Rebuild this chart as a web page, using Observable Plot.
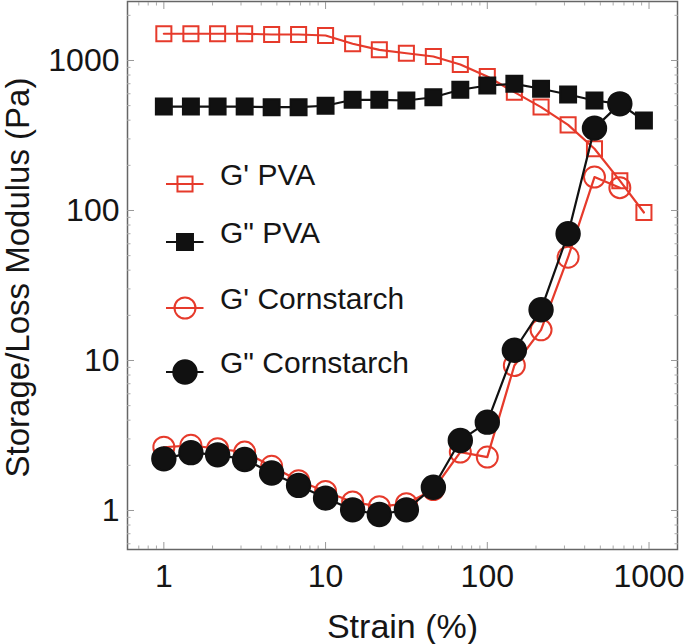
<!DOCTYPE html>
<html><head><meta charset="utf-8">
<script src="https://cdn.jsdelivr.net/npm/d3@7"></script>
<script src="https://cdn.jsdelivr.net/npm/@observablehq/plot@0.6"></script>
<style>
body{margin:0;background:#fff;}
#wrap{position:relative;width:685px;height:644px;font-family:"Liberation Sans",Arial,sans-serif;}
#legend{position:absolute;left:0;top:0;pointer-events:none;}
</style></head><body><div id="wrap"></div>
<script>
// strain points (%)
const strain = [1, 1.47, 2.15, 3.16, 4.64, 6.81, 10, 14.7, 21.5, 31.6, 46.4, 68.1, 100, 147, 215, 316, 460, 660, 930];
const strainCS = strain.slice(0, 18);
// moduli (Pa)
const gpPVA  = [1507, 1507, 1507, 1507, 1490, 1490, 1468, 1292, 1178, 1118, 1063, 940, 782, 615, 489, 372, 258, 158, 97];
const gppPVA = [493, 493, 493, 493, 488, 488, 499, 547, 547, 541, 569, 638, 681, 699, 648, 593, 541, 514, 398];
const gpCS   = [2.64, 2.72, 2.58, 2.45, 1.97, 1.58, 1.34, 1.14, 1.06, 1.11, 1.38, 2.45, 2.27, 9.26, 16.0, 48.8, 167, 142];
const gppCS  = [2.21, 2.43, 2.35, 2.19, 1.78, 1.47, 1.21, 1.01, 0.94, 1.01, 1.43, 2.93, 3.88, 11.7, 21.8, 70, 354, 514];

const seriesNames = ["G' PVA", 'G" PVA', "G' Cornstarch", 'G" Cornstarch'];
const xMajor = [1, 10, 100, 1000];
const xMinor = [0.7, 0.8, 0.9, 2, 3, 4, 5, 6, 7, 8, 9, 20, 30, 40, 50, 60, 70, 80, 90, 200, 300, 400, 500, 600, 700, 800, 900];
const yMajor = [1, 10, 100, 1000];
const yMinor = [0.6, 0.7, 0.8, 0.9, 2, 3, 4, 5, 6, 7, 8, 9, 20, 30, 40, 50, 60, 70, 80, 90, 200, 300, 400, 500, 600, 700, 800, 900, 2000];

const RED = "#e63a2b", BLACK = "#111111";
const styles = [
  {name: seriesNames[0], xs: strain,   ys: gpPVA,  color: RED,   symbol: "square", r: 8.5, fill: "none"},
  {name: seriesNames[1], xs: strain,   ys: gppPVA, color: BLACK, symbol: "square", r: 9,   fill: BLACK},
  {name: seriesNames[2], xs: strainCS, ys: gpCS,   color: RED,   symbol: "circle", r: 10.5, fill: "none"},
  {name: seriesNames[3], xs: strainCS, ys: gppCS,  color: BLACK, symbol: "circle", r: 11.7, fill: BLACK}
];

const marks = [];
marks.push(Plot.frame({stroke: "#666", strokeWidth: 1.5}));
const tickAxes = (axis, major, minor) => {
  const anchors = axis === "x" ? ["bottom", "top"] : ["left", "right"];
  const f = axis === "x" ? Plot.axisX : Plot.axisY;
  for (const a of anchors) {
    marks.push(f(major, {anchor: a, tickSize: -7, tickFormat: () => "", label: null, stroke: "#999"}));
    marks.push(f(minor, {anchor: a, tickSize: -3.5, tickFormat: () => "", label: null, stroke: "#aaa"}));
  }
};
tickAxes("x", xMajor, xMinor);
tickAxes("y", yMajor, yMinor);
marks.push(Plot.axisX(xMajor, {anchor: "bottom", tickSize: 0, tickPadding: 15, fontSize: 32, tickFormat: d => String(d), label: null, fill: "#151515"}));
marks.push(Plot.axisY(yMajor, {anchor: "left", tickSize: 0, tickPadding: 8, fontSize: 32, tickFormat: d => String(d), label: null, fill: "#151515"}));
marks.push(Plot.text(["Strain (%)"], {frameAnchor: "bottom", dy: 88, lineAnchor: "bottom", textAnchor: "middle", fontSize: 34, fill: "#151515"}));
marks.push(Plot.text(["Storage/Loss Modulus (Pa)"], {frameAnchor: "left", dx: -109, dy: 2, rotate: -90, lineAnchor: "middle", textAnchor: "middle", fontSize: 33, fill: "#151515"}));

for (const s of styles) {
  const rows = s.xs.map((x, i) => ({x, y: s.ys[i]}));
  marks.push(Plot.line(rows, {x: "x", y: "y", stroke: s.color, strokeWidth: 2.2}));
  marks.push(Plot.dot(rows, {x: "x", y: "y", symbol: s.symbol, r: s.r, stroke: s.color, strokeWidth: 2, fill: s.fill}));
}

const chart = Plot.plot({
  width: 685, height: 644,
  marginLeft: 127, marginRight: 8, marginTop: 1, marginBottom: 95,
  style: {fontFamily: '"Liberation Sans", Arial, sans-serif', background: "#fff"},
  x: {type: "log", domain: [0.596, 1500]},
  y: {type: "log", domain: [0.5495, 2473]},
  marks
});
const wrap = document.getElementById("wrap");
wrap.appendChild(chart);

// legend overlay
const rowsY = [184, 242, 308, 372];
const lg = d3.select(wrap).append("svg").attr("id", "legend").attr("width", 685).attr("height", 644);
styles.forEach((s, i) => {
  const g = lg.append("g").attr("transform", `translate(0,${rowsY[i]})`);
  g.append("line").attr("x1", 166).attr("x2", 203.5).attr("y1", 0).attr("y2", 0).attr("stroke", s.color).attr("stroke-width", 2.2);
  g.append("path").attr("transform", "translate(185,0)")
    .attr("d", d3.symbol(s.symbol === "square" ? d3.symbolSquare : d3.symbolCircle, s.r * s.r * Math.PI)())
    .attr("fill", s.fill === "none" ? "none" : s.fill).attr("stroke", s.color).attr("stroke-width", 2);
  g.append("text").attr("x", 220).attr("y", 1).attr("font-size", 30).attr("fill", "#151515")
    .attr("font-family", '"Liberation Sans", Arial, sans-serif').text(s.name);
});
</script></body></html>
